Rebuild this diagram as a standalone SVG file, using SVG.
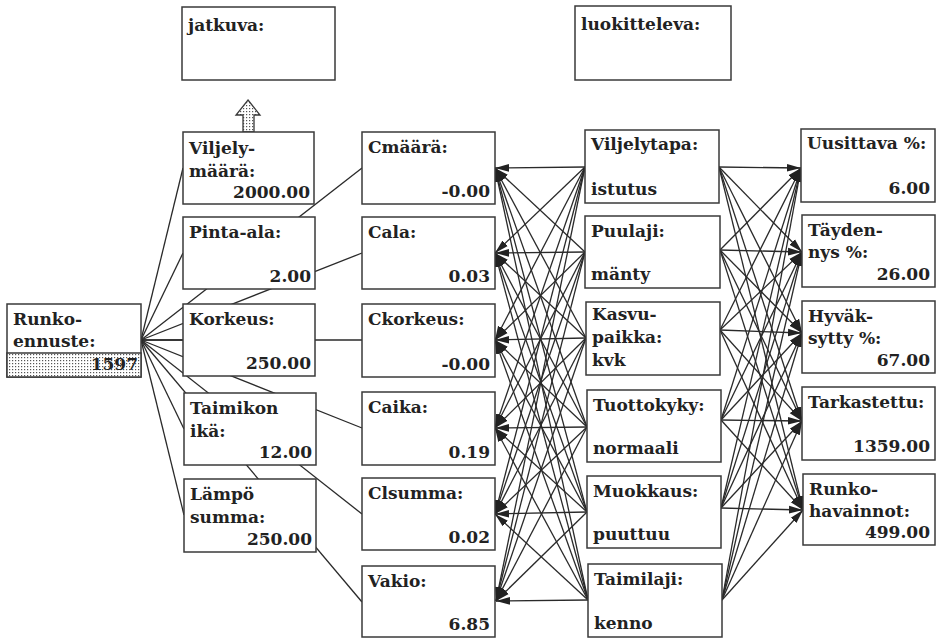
<svg xmlns="http://www.w3.org/2000/svg" width="936" height="638" viewBox="0 0 936 638">
<style>
.b{fill:#fff;stroke:#3a3a3a;stroke-width:1.5}
.t{font-family:"DejaVu Serif","Liberation Serif",serif;font-weight:bold;font-size:17px;fill:#222}
.r{text-anchor:end}
#conn line{stroke:#2a2a2a;stroke-width:1.3}
#conn .a{marker-end:url(#ah)}
</style>
<defs>
<marker id="ah" markerWidth="15" markerHeight="10" refX="14" refY="5" orient="auto" markerUnits="userSpaceOnUse"><path d="M0,1.2 L14,5 L0,8.8 z" fill="#222"/></marker>
<pattern id="dots" width="3" height="3" patternUnits="userSpaceOnUse"><rect width="3" height="3" fill="#fff"/><rect width="1.2" height="1.2" fill="#555"/></pattern>
</defs>
<g id="conn">
<line x1="141" y1="340" x2="183" y2="168"/>
<line x1="141" y1="340" x2="183" y2="253"/>
<line x1="141" y1="340" x2="183" y2="340"/>
<line x1="141" y1="340" x2="184" y2="429"/>
<line x1="141" y1="340" x2="184" y2="515"/>
<line x1="141" y1="340" x2="362" y2="168"/>
<line x1="141" y1="340" x2="362" y2="253"/>
<line x1="141" y1="340" x2="362" y2="340"/>
<line x1="141" y1="340" x2="362" y2="428"/>
<line x1="141" y1="340" x2="362" y2="514"/>
<line x1="141" y1="340" x2="362" y2="602"/>
<line class="a" x1="585" y1="167" x2="495" y2="168"/><line class="a" x1="585" y1="167" x2="495" y2="253"/><line class="a" x1="585" y1="167" x2="495" y2="340"/><line class="a" x1="585" y1="167" x2="495" y2="428"/><line class="a" x1="585" y1="167" x2="495" y2="514"/><line class="a" x1="585" y1="167" x2="496" y2="601"/>
<line class="a" x1="585" y1="252" x2="495" y2="168"/><line class="a" x1="585" y1="252" x2="495" y2="253"/><line class="a" x1="585" y1="252" x2="495" y2="340"/><line class="a" x1="585" y1="252" x2="495" y2="428"/><line class="a" x1="585" y1="252" x2="495" y2="514"/><line class="a" x1="585" y1="252" x2="496" y2="601"/>
<line class="a" x1="586" y1="338" x2="495" y2="168"/><line class="a" x1="586" y1="338" x2="495" y2="253"/><line class="a" x1="586" y1="338" x2="495" y2="340"/><line class="a" x1="586" y1="338" x2="495" y2="428"/><line class="a" x1="586" y1="338" x2="495" y2="514"/><line class="a" x1="586" y1="338" x2="496" y2="601"/>
<line class="a" x1="587" y1="427" x2="495" y2="168"/><line class="a" x1="587" y1="427" x2="495" y2="253"/><line class="a" x1="587" y1="427" x2="495" y2="340"/><line class="a" x1="587" y1="427" x2="495" y2="428"/><line class="a" x1="587" y1="427" x2="495" y2="514"/><line class="a" x1="587" y1="427" x2="496" y2="601"/>
<line class="a" x1="587" y1="512" x2="495" y2="168"/><line class="a" x1="587" y1="512" x2="495" y2="253"/><line class="a" x1="587" y1="512" x2="495" y2="340"/><line class="a" x1="587" y1="512" x2="495" y2="428"/><line class="a" x1="587" y1="512" x2="495" y2="514"/><line class="a" x1="587" y1="512" x2="496" y2="601"/>
<line class="a" x1="588" y1="600" x2="495" y2="168"/><line class="a" x1="588" y1="600" x2="495" y2="253"/><line class="a" x1="588" y1="600" x2="495" y2="340"/><line class="a" x1="588" y1="600" x2="495" y2="428"/><line class="a" x1="588" y1="600" x2="495" y2="514"/><line class="a" x1="588" y1="600" x2="496" y2="601"/>
<line class="a" x1="719" y1="167" x2="801" y2="168"/><line class="a" x1="719" y1="167" x2="802" y2="252"/><line class="a" x1="719" y1="167" x2="802" y2="333"/><line class="a" x1="719" y1="167" x2="802" y2="421"/><line class="a" x1="719" y1="167" x2="803" y2="510"/>
<line class="a" x1="720" y1="250" x2="801" y2="168"/><line class="a" x1="720" y1="250" x2="802" y2="252"/><line class="a" x1="720" y1="250" x2="802" y2="333"/><line class="a" x1="720" y1="250" x2="802" y2="421"/><line class="a" x1="720" y1="250" x2="803" y2="510"/>
<line class="a" x1="720" y1="330" x2="801" y2="168"/><line class="a" x1="720" y1="330" x2="802" y2="252"/><line class="a" x1="720" y1="330" x2="802" y2="333"/><line class="a" x1="720" y1="330" x2="802" y2="421"/><line class="a" x1="720" y1="330" x2="803" y2="510"/>
<line class="a" x1="721" y1="420" x2="801" y2="168"/><line class="a" x1="721" y1="420" x2="802" y2="252"/><line class="a" x1="721" y1="420" x2="802" y2="333"/><line class="a" x1="721" y1="420" x2="802" y2="421"/><line class="a" x1="721" y1="420" x2="803" y2="510"/>
<line class="a" x1="721" y1="508" x2="801" y2="168"/><line class="a" x1="721" y1="508" x2="802" y2="252"/><line class="a" x1="721" y1="508" x2="802" y2="333"/><line class="a" x1="721" y1="508" x2="802" y2="421"/><line class="a" x1="721" y1="508" x2="803" y2="510"/>
<line class="a" x1="722" y1="600" x2="801" y2="168"/><line class="a" x1="722" y1="600" x2="802" y2="252"/><line class="a" x1="722" y1="600" x2="802" y2="333"/><line class="a" x1="722" y1="600" x2="802" y2="421"/><line class="a" x1="722" y1="600" x2="803" y2="510"/>
</g>
<g id="jatkuva"><rect class="b" x="182" y="7" width="153" height="73"/><text class="t" x="188" y="31">jatkuva:</text></g>
<g id="luokitteleva"><rect class="b" x="575" y="6" width="156" height="74"/><text class="t" x="581" y="30">luokitteleva:</text></g>
<g id="up-arrow"><path d="M248,100 L260,115 L254,115 L254,132 L243,132 L243,115 L236,115 Z" fill="url(#dots)" stroke="#3a3a3a" stroke-width="1.3"/></g>
<g id="runkoennuste"><rect class="b" x="7" y="304" width="134" height="73"/><rect x="7" y="353" width="134" height="24" fill="url(#dots)" stroke="#3a3a3a" stroke-width="1.5"/><text class="t" x="13" y="325">Runko-</text><text class="t" x="13" y="347">ennuste:</text><text class="t r" x="138" y="370">1597</text></g>
<g id="viljelymaara"><rect class="b" x="183" y="132" width="131" height="72"/><text class="t" x="189" y="154">Viljely-</text><text class="t" x="189" y="177">määrä:</text><text class="t r" x="310" y="198">2000.00</text></g>
<g id="pinta-ala"><rect class="b" x="183" y="217" width="132" height="72"/><text class="t" x="189" y="238">Pinta-ala:</text><text class="t r" x="311" y="282">2.00</text></g>
<g id="korkeus"><rect class="b" x="183" y="304" width="132" height="72"/><text class="t" x="189" y="325">Korkeus:</text><text class="t r" x="311" y="369">250.00</text></g>
<g id="taimikon-ika"><rect class="b" x="184" y="393" width="132" height="72"/><text class="t" x="190" y="414">Taimikon</text><text class="t" x="190" y="437">ikä:</text><text class="t r" x="312" y="458">12.00</text></g>
<g id="lampo-summa"><rect class="b" x="184" y="479" width="132" height="73"/><text class="t" x="190" y="500">Lämpö</text><text class="t" x="190" y="523">summa:</text><text class="t r" x="312" y="545">250.00</text></g>
<g id="cmaara"><rect class="b" x="362" y="132" width="133" height="72"/><text class="t" x="368" y="153">Cmäärä:</text><text class="t r" x="490" y="197">-0.00</text></g>
<g id="cala"><rect class="b" x="362" y="217" width="133" height="72"/><text class="t" x="368" y="238">Cala:</text><text class="t r" x="490" y="282">0.03</text></g>
<g id="ckorkeus"><rect class="b" x="362" y="304" width="133" height="73"/><text class="t" x="368" y="325">Ckorkeus:</text><text class="t r" x="490" y="370">-0.00</text></g>
<g id="caika"><rect class="b" x="362" y="392" width="133" height="73"/><text class="t" x="368" y="413">Caika:</text><text class="t r" x="490" y="458">0.19</text></g>
<g id="clsumma"><rect class="b" x="362" y="478" width="133" height="72"/><text class="t" x="368" y="499">Clsumma:</text><text class="t r" x="490" y="543">0.02</text></g>
<g id="vakio"><rect class="b" x="362" y="566" width="133" height="71"/><text class="t" x="368" y="587">Vakio:</text><text class="t r" x="490" y="630">6.85</text></g>
<g id="viljelytapa"><rect class="b" x="585" y="130" width="134" height="73"/><text class="t" x="591" y="150">Viljelytapa:</text><text class="t" x="591" y="195">istutus</text></g>
<g id="puulaji"><rect class="b" x="585" y="216" width="135" height="72"/><text class="t" x="591" y="237">Puulaji:</text><text class="t" x="591" y="280">mänty</text></g>
<g id="kasvupaikka"><rect class="b" x="586" y="302" width="134" height="73"/><text class="t" x="592" y="320">Kasvu-</text><text class="t" x="592" y="343">paikka:</text><text class="t" x="592" y="366">kvk</text></g>
<g id="tuottokyky"><rect class="b" x="587" y="390" width="134" height="72"/><text class="t" x="593" y="411">Tuottokyky:</text><text class="t" x="593" y="454">normaali</text></g>
<g id="muokkaus"><rect class="b" x="587" y="476" width="134" height="72"/><text class="t" x="593" y="497">Muokkaus:</text><text class="t" x="593" y="540">puuttuu</text></g>
<g id="taimilaji"><rect class="b" x="588" y="564" width="134" height="73"/><text class="t" x="594" y="585">Taimilaji:</text><text class="t" x="594" y="629">kenno</text></g>
<g id="uusittava"><rect class="b" x="801" y="129" width="134" height="73"/><text class="t" x="807" y="149">Uusittava %:</text><text class="t r" x="930" y="194">6.00</text></g>
<g id="taydennys"><rect class="b" x="802" y="215" width="133" height="72"/><text class="t" x="808" y="236">Täyden-</text><text class="t" x="808" y="258">nys %:</text><text class="t r" x="930" y="280">26.00</text></g>
<g id="hyvaksytty"><rect class="b" x="802" y="301" width="133" height="72"/><text class="t" x="808" y="322">Hyväk-</text><text class="t" x="808" y="344">sytty %:</text><text class="t r" x="930" y="366">67.00</text></g>
<g id="tarkastettu"><rect class="b" x="802" y="387" width="133" height="73"/><text class="t" x="808" y="408">Tarkastettu:</text><text class="t r" x="930" y="452">1359.00</text></g>
<g id="runkohavainnot"><rect class="b" x="803" y="474" width="132" height="71"/><text class="t" x="809" y="495">Runko-</text><text class="t" x="809" y="517">havainnot:</text><text class="t r" x="930" y="538">499.00</text></g>
</svg>
